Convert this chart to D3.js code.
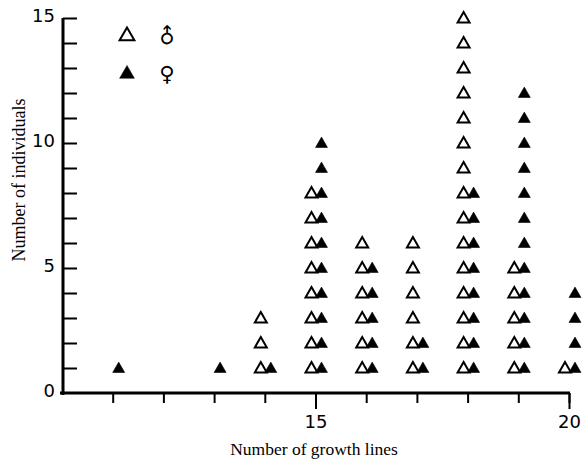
<!DOCTYPE html>
<html><head><meta charset="utf-8">
<script src="https://cdn.jsdelivr.net/npm/d3@7"></script>
<style>body{margin:0;background:#fff}</style>
</head><body>
<svg id="c" width="585" height="459"></svg>
<script>
const growthLines = [11, 12, 13, 14, 15, 16, 17, 18, 19, 20];
const males =       [0,  0,  0,  3,  8,  6,  6,  15, 5,  1];
const females =     [1,  0,  1,  1,  10, 5,  2,  8,  12, 4];
const xTickLabels = [15, 20];
const yTickLabels = [0, 5, 10, 15];
const legendItems = [{sex: "male", label: "\u2642"}, {sex: "female", label: "\u2640"}];

const svg = d3.select("#c");
const x = d3.scaleLinear().domain([10, 20]).range([62, 569]);
const y = d3.scaleLinear().domain([0, 15]).range([393, 18]);

// axes lines
svg.append("line").attr("x1", 63).attr("x2", 63).attr("y1", y(15)).attr("y2", y(0) + 2)
  .attr("stroke", "#000").attr("stroke-width", 3);
svg.append("line").attr("x1", 60).attr("x2", x(20) + 1).attr("y1", y(0)).attr("y2", y(0))
  .attr("stroke", "#000").attr("stroke-width", 3);

// y ticks (inside, to right)
const yMinor = svg.append("g").attr("transform", "translate(63,0)")
  .call(d3.axisRight(y).tickValues(d3.range(1, 16)).tickSize(14).tickFormat(""));
yMinor.select(".domain").remove();
yMinor.selectAll("line").attr("stroke-width", 2);
const yLab = svg.append("g").attr("transform", "translate(55,0)")
  .call(d3.axisLeft(y).tickValues(yTickLabels).tickSize(0).tickPadding(0));
yLab.select(".domain").remove();
yLab.selectAll("text").attr("font-family", "DejaVu Sans").attr("font-size", 18).attr("fill", "#000")
  .attr("dy", "0.2em");

// x ticks (below)
const xMinor = svg.append("g").attr("transform", `translate(0,${y(0)})`)
  .call(d3.axisBottom(x).tickValues(growthLines).tickSize(10).tickFormat(""));
xMinor.select(".domain").remove();
xMinor.selectAll("line").attr("stroke-width", 2);
const xMajor = svg.append("g").attr("transform", `translate(0,${y(0)})`)
  .call(d3.axisBottom(x).tickValues(xTickLabels).tickSize(16).tickPadding(6));
xMajor.select(".domain").remove();
xMajor.selectAll("line").attr("stroke-width", 2);
xMajor.selectAll("text").attr("font-family", "DejaVu Sans").attr("font-size", 18).attr("fill", "#000");

// data points
const tri = d3.symbol().type(d3.symbolTriangle).size(62);
const pts = [];
growthLines.forEach((g, i) => {
  for (let k = 1; k <= males[i]; k++) pts.push({g, k, sex: "male"});
  for (let k = 1; k <= females[i]; k++) pts.push({g, k, sex: "female"});
});
svg.append("g").selectAll("path").data(pts).join("path")
  .attr("d", tri)
  .attr("transform", d => `translate(${x(d.g) + (d.sex === "male" ? -4 : 6)},${y(d.k) + 1})`)
  .attr("fill", d => d.sex === "male" ? "#fff" : "#000")
  .attr("stroke", "#000")
  .attr("stroke-width", d => d.sex === "male" ? 2 : 0.6)
  .attr("stroke-linejoin", "miter");

// legend
const legTri = d3.symbol().type(d3.symbolTriangle).size(95);
const leg = svg.append("g").selectAll("g").data(legendItems).join("g")
  .attr("transform", (d, i) => `translate(127,${36 + i * 38})`);
leg.append("path").attr("d", legTri)
  .attr("fill", d => d.sex === "male" ? "#fff" : "#000")
  .attr("stroke", "#000").attr("stroke-width", d => d.sex === "male" ? 2 : 0.5);
leg.append("text")
  .attr("transform", d => d.sex === "male" ? "translate(40,0) rotate(-45)" : "translate(40,0)")
  .attr("text-anchor", "middle").attr("dy", "0.35em")
  .attr("font-family", "DejaVu Sans").attr("font-size", 21).text(d => d.label);

// axis titles
svg.append("text").attr("x", 314).attr("y", 455).attr("text-anchor", "middle")
  .attr("font-family", "Liberation Serif").attr("font-size", 17.5).text("Number of growth lines");
svg.append("text").attr("transform", "translate(25,180) rotate(-90)").attr("text-anchor", "middle")
  .attr("font-family", "Liberation Serif").attr("font-size", 18).text("Number of individuals");
</script>
</body></html>
